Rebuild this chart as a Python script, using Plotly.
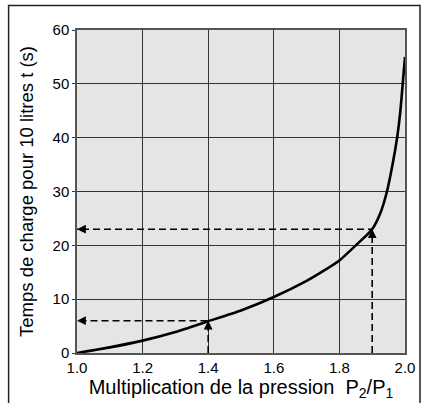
import plotly.graph_objects as go

# Curve data
ratio = [1.0, 1.1, 1.2, 1.3, 1.4, 1.5, 1.6, 1.7, 1.75, 1.8, 1.85, 1.9, 1.925, 1.945, 1.962, 1.976, 1.986, 1.993, 2.0]
time_s = [0, 1.05, 2.3, 3.9, 5.9, 7.9, 10.4, 13.4, 15.2, 17.2, 20.0, 23.0, 26.0, 30.0, 35.0, 40.0, 45.0, 50.0, 55.0]

# Reading examples (dashed arrows)
read_x = [1.4, 1.9]
read_y = [6, 23]

x_ticks = [1.0, 1.2, 1.4, 1.6, 1.8, 2.0]
x_tick_labels = ["1.0", "1.2", "1.4", "1.6", "1.8", "2.0"]
y_ticks = [0, 10, 20, 30, 40, 50, 60]

title_text = "Diagramme de charge"
x_title = "Multiplication de la pression  P<sub>2</sub>/P<sub>1</sub>"
y_title = "Temps de charge pour 10 litres t (s)"

FONT = "Liberation Sans, Arial, Helvetica, sans-serif"

fig = go.Figure()

for rx, ry in zip(read_x, read_y):
    fig.add_trace(go.Scatter(
        x=[rx, rx, 1.0], y=[0, ry, ry], mode="lines",
        line=dict(color="black", width=1.6, dash="7px,4px"),
        hoverinfo="skip", showlegend=False, cliponaxis=False,
    ))

fig.add_trace(go.Scatter(
    x=ratio, y=time_s, mode="lines", line=dict(color="black", width=2.6, shape="spline", smoothing=0.5),
    showlegend=False,
))

annotations = []
for rx, ry in zip(read_x, read_y):
    # upward arrowhead at the curve
    annotations.append(dict(x=rx, y=ry, xref="x", yref="y", ax=0, ay=9, text=" ",
                            showarrow=True, arrowhead=2, arrowsize=1.1, arrowwidth=1.6,
                            arrowcolor="black", standoff=0, font=dict(size=2)))
    # leftward arrowhead at the y axis
    annotations.append(dict(x=1.0, y=ry, xref="x", yref="y", ax=9, ay=0, text=" ",
                            showarrow=True, arrowhead=2, arrowsize=1.1, arrowwidth=1.6,
                            arrowcolor="black", standoff=0, font=dict(size=2)))

# partially visible title at the very top
annotations.append(dict(x=-0.207, y=1.092, xref="paper", yref="paper", xanchor="left", yanchor="bottom",
                        text="<b>" + title_text + "</b>", showarrow=False,
                        font=dict(family=FONT, size=28, color="black")))

fig.update_layout(
    width=422, height=403,
    margin=dict(l=77, r=16.5, t=29.5, b=50, autoexpand=False),
    paper_bgcolor="white", plot_bgcolor="#e5e5e5",
    font=dict(family=FONT, color="black"),
    annotations=annotations,
    shapes=[dict(type="rect", xref="paper", yref="paper", x0=-0.2085, x1=1.0457, y0=-0.3, y1=1.0757,
                 line=dict(color="#222", width=1.5), layer="below")],
)

fig.update_xaxes(
    range=[1.0, 2.0], tickvals=x_ticks, ticktext=x_tick_labels,
    showgrid=True, gridcolor="#333", gridwidth=1,
    showline=True, linecolor="#555", linewidth=1.5, mirror=True,
    ticks="", tickfont=dict(size=15), zeroline=False, automargin=False,
    title=dict(text=x_title, font=dict(size=20), standoff=3),
)
fig.update_yaxes(
    range=[0, 60], tickvals=y_ticks,
    showgrid=True, gridcolor="#333", gridwidth=1,
    showline=True, linecolor="#555", linewidth=1.5, mirror=True,
    ticks="outside", ticklen=3, tickcolor="#333", tickfont=dict(size=15), zeroline=False, automargin=False,
    title=dict(text=y_title, font=dict(size=18.5), standoff=14),
)

fig.write_html("out.html", config={"displayModeBar": False},
               post_script="document.body.style.margin='0px';document.body.style.overflow='hidden';")
